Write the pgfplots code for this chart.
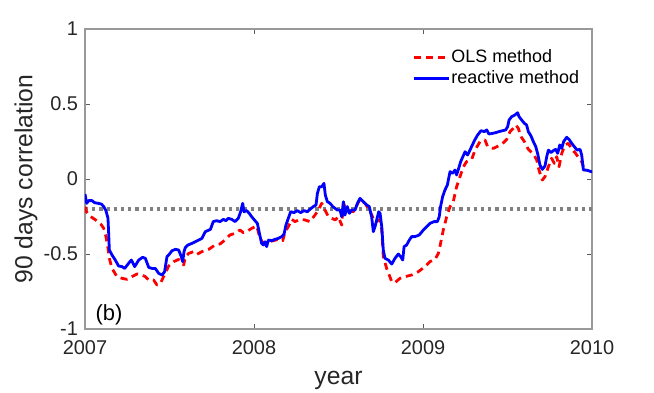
\documentclass[border=0pt]{standalone}
\usepackage{fontspec}
\setmainfont{Liberation Sans}
\usepackage{pgfplots}
\pgfplotsset{compat=1.18}
\definecolor{olsred}{HTML}{FF0000}
\definecolor{reacblue}{HTML}{0000FF}
\definecolor{refgray}{HTML}{808080}
\definecolor{labgray}{HTML}{262626}

\pgfplotstableread{
x y
2007.000 -0.184
2007.008 -0.218
2007.034 -0.251
2007.063 -0.273
2007.093 -0.300
2007.111 -0.329
2007.124 -0.384
2007.136 -0.462
2007.144 -0.529
2007.160 -0.596
2007.189 -0.651
2007.219 -0.662
2007.249 -0.669
2007.278 -0.651
2007.308 -0.633
2007.337 -0.640
2007.357 -0.651
2007.377 -0.673
2007.406 -0.673
2007.426 -0.707
2007.446 -0.696
2007.465 -0.651
2007.495 -0.580
2007.525 -0.551
2007.554 -0.536
2007.574 -0.562
2007.584 -0.573
2007.594 -0.518
2007.613 -0.496
2007.643 -0.484
2007.663 -0.502
2007.692 -0.484
2007.732 -0.469
2007.769 -0.440
2007.799 -0.433
2007.828 -0.407
2007.858 -0.373
2007.888 -0.362
2007.917 -0.340
2007.937 -0.358
2007.957 -0.351
2007.986 -0.329
2008.016 -0.313
2008.036 -0.396
2008.055 -0.429
2008.085 -0.418
2008.115 -0.411
2008.144 -0.402
2008.170 -0.411
2008.184 -0.351
2008.203 -0.318
2008.223 -0.269
2008.243 -0.284
2008.272 -0.269
2008.302 -0.273
2008.331 -0.284
2008.361 -0.240
2008.381 -0.207
2008.401 -0.162
2008.420 -0.207
2008.440 -0.251
2008.460 -0.262
2008.480 -0.273
2008.499 -0.251
2008.519 -0.307
2008.529 -0.162
2008.548 -0.207
2008.588 -0.218
2008.627 -0.136
2008.657 -0.162
2008.682 -0.207
2008.706 -0.262
2008.726 -0.284
2008.746 -0.269
2008.756 -0.340
2008.765 -0.518
2008.785 -0.596
2008.800 -0.640
2008.815 -0.684
2008.834 -0.691
2008.864 -0.662
2008.893 -0.651
2008.933 -0.640
2008.972 -0.618
2009.012 -0.584
2009.041 -0.551
2009.071 -0.536
2009.091 -0.496
2009.100 -0.451
2009.120 -0.340
2009.140 -0.251
2009.160 -0.184
2009.179 -0.151
2009.199 -0.051
2009.219 0.016
2009.239 0.082
2009.258 0.116
2009.288 0.131
2009.308 0.193
2009.337 0.249
2009.367 0.260
2009.382 0.216
2009.416 0.204
2009.446 0.220
2009.476 0.242
2009.495 0.264
2009.515 0.316
2009.535 0.338
2009.549 0.360
2009.564 0.338
2009.580 0.282
2009.600 0.249
2009.623 0.198
2009.653 0.167
2009.673 0.127
2009.686 0.060
2009.706 -0.007
2009.722 0.016
2009.742 0.082
2009.761 0.138
2009.777 0.104
2009.791 0.149
2009.805 0.082
2009.821 0.171
2009.840 0.227
2009.860 0.238
2009.884 0.193
2009.903 0.171
2009.923 0.138
2009.939 0.116
2009.949 0.082
2009.959 0.049
}\olsdata

\pgfplotstableread{
x y
2007.000 -0.100
2007.010 -0.162
2007.022 -0.144
2007.041 -0.144
2007.057 -0.158
2007.077 -0.162
2007.097 -0.167
2007.111 -0.184
2007.124 -0.211
2007.136 -0.262
2007.140 -0.362
2007.144 -0.473
2007.160 -0.507
2007.179 -0.540
2007.199 -0.580
2007.219 -0.584
2007.235 -0.596
2007.258 -0.562
2007.274 -0.540
2007.294 -0.584
2007.318 -0.540
2007.341 -0.522
2007.357 -0.529
2007.377 -0.589
2007.396 -0.596
2007.416 -0.596
2007.436 -0.629
2007.456 -0.640
2007.471 -0.618
2007.485 -0.518
2007.495 -0.507
2007.515 -0.478
2007.535 -0.469
2007.554 -0.473
2007.570 -0.518
2007.578 -0.551
2007.586 -0.484
2007.594 -0.456
2007.609 -0.440
2007.633 -0.429
2007.653 -0.418
2007.673 -0.407
2007.692 -0.396
2007.712 -0.351
2007.742 -0.336
2007.759 -0.284
2007.779 -0.278
2007.799 -0.284
2007.819 -0.269
2007.834 -0.278
2007.848 -0.262
2007.868 -0.269
2007.888 -0.284
2007.907 -0.262
2007.921 -0.218
2007.933 -0.162
2007.941 -0.218
2007.957 -0.211
2007.972 -0.229
2007.986 -0.251
2008.006 -0.278
2008.020 -0.296
2008.032 -0.362
2008.045 -0.429
2008.055 -0.440
2008.065 -0.418
2008.075 -0.451
2008.085 -0.407
2008.105 -0.411
2008.124 -0.402
2008.144 -0.396
2008.164 -0.384
2008.178 -0.367
2008.189 -0.307
2008.203 -0.262
2008.217 -0.218
2008.237 -0.224
2008.256 -0.211
2008.276 -0.224
2008.296 -0.211
2008.316 -0.218
2008.331 -0.202
2008.351 -0.184
2008.367 -0.173
2008.375 -0.096
2008.387 -0.051
2008.401 -0.051
2008.414 -0.029
2008.422 -0.107
2008.434 -0.151
2008.450 -0.162
2008.466 -0.184
2008.480 -0.196
2008.493 -0.207
2008.509 -0.207
2008.519 -0.251
2008.529 -0.151
2008.538 -0.240
2008.552 -0.184
2008.564 -0.229
2008.578 -0.207
2008.598 -0.207
2008.612 -0.162
2008.627 -0.129
2008.647 -0.151
2008.667 -0.173
2008.682 -0.184
2008.696 -0.251
2008.706 -0.351
2008.716 -0.318
2008.726 -0.273
2008.738 -0.218
2008.746 -0.229
2008.756 -0.318
2008.765 -0.473
2008.775 -0.529
2008.795 -0.540
2008.815 -0.567
2008.834 -0.529
2008.854 -0.500
2008.868 -0.518
2008.880 -0.540
2008.888 -0.451
2008.903 -0.440
2008.919 -0.407
2008.933 -0.384
2008.953 -0.384
2008.978 -0.373
2009.002 -0.340
2009.022 -0.318
2009.041 -0.296
2009.065 -0.284
2009.085 -0.284
2009.096 -0.251
2009.104 -0.184
2009.116 -0.118
2009.130 -0.073
2009.144 -0.040
2009.160 0.049
2009.175 0.038
2009.189 0.060
2009.199 0.027
2009.211 0.071
2009.223 0.116
2009.249 0.182
2009.264 0.160
2009.278 0.193
2009.292 0.227
2009.308 0.264
2009.323 0.293
2009.343 0.322
2009.363 0.316
2009.377 0.327
2009.390 0.300
2009.410 0.304
2009.430 0.309
2009.450 0.316
2009.470 0.322
2009.489 0.327
2009.501 0.349
2009.509 0.393
2009.525 0.416
2009.544 0.427
2009.560 0.442
2009.568 0.416
2009.584 0.393
2009.600 0.371
2009.613 0.360
2009.623 0.316
2009.639 0.287
2009.653 0.249
2009.667 0.216
2009.678 0.171
2009.692 0.093
2009.706 0.064
2009.722 0.087
2009.732 0.149
2009.742 0.193
2009.757 0.176
2009.771 0.189
2009.785 0.198
2009.797 0.171
2009.809 0.227
2009.821 0.204
2009.832 0.249
2009.850 0.278
2009.864 0.264
2009.880 0.238
2009.895 0.216
2009.911 0.193
2009.929 0.198
2009.939 0.160
2009.949 0.060
2009.962 0.060
2009.978 0.056
2009.994 0.049
2010.000 0.050
}\reacdata

\begin{document}
\begin{tikzpicture}
\begin{axis}[
  scale only axis,
  width=253.5bp, height=150bp,
  xmin=2007, xmax=2010, ymin=-1, ymax=1,
  xtick={2007,2008,2009,2010},
  xticklabels={2007,2008,2009,2010},
  ytick={-1,-0.5,0,0.5,1},
  yticklabels={-1,-0.5,0,0.5,1},
  tick align=inside,
  major tick length=2.5bp,
  axis line style={draw=black!40, line width=0.6bp},
  tick style={draw=black!65, line width=0.5bp},
  ticklabel style={font=\fontsize{10}{12}\selectfont, text=labgray},
  xticklabel style={yshift=-2.5bp},
  xlabel={year},
  ylabel={90 days correlation},
  every axis x label/.style={at={(axis description cs:0.5,-0.17)}, anchor=center,
    font=\fontsize{12.4}{14}\selectfont, text=labgray},
  every axis y label/.style={at={(axis description cs:-0.1164,0.5)}, rotate=90, anchor=center,
    font=\fontsize{12.4}{14}\selectfont, text=labgray},
  legend style={at={(axis description cs:0.645,0.938)}, anchor=north west,
    draw=none, fill=none, inner sep=0pt, row sep=1.2bp,
    font=\fontsize{9}{11}\selectfont,
    nodes={inner sep=0.6bp, text height=6.5bp, text depth=1.8bp}},
  legend cell align=left,
  legend image code/.code={\draw[#1] (0bp,0bp) -- (17.5bp,0bp);},
]
\addplot[refgray, line width=1.6bp, dash pattern=on 1.6bp off 2bp, forget plot] coordinates {(2007,-0.2) (2010,-0.2)};
\addplot[olsred, line width=1.4bp, dash pattern=on 3.5bp off 2.5bp, line join=round] table {\olsdata};
\addplot[reacblue, line width=1.4bp, line join=round] table {\reacdata};
\legend{OLS method, reactive method}
\node[font=\fontsize{11}{13}\selectfont, text=black] at (axis cs:2007.142,-0.907) {(b)};
\coordinate (bbl) at (rel axis cs:-0.16765,-0.21);
\coordinate (btr) at (rel axis cs:1.12229,1.09667);
\end{axis}
\pgfresetboundingbox
\useasboundingbox (bbl) rectangle (btr);
\end{tikzpicture}
\end{document}
